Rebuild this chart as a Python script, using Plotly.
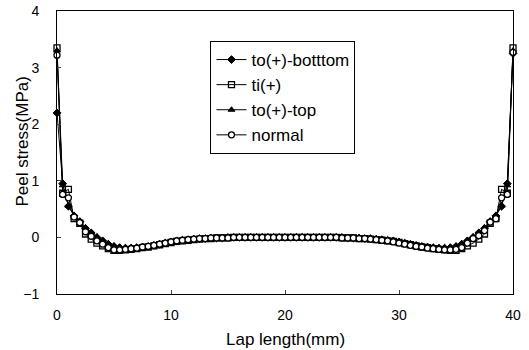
import plotly.graph_objects as go

# Lap position along the joint (mm)
lap_mm = [i * 0.5 for i in range(81)]

# Peel stress (MPa) for each loading case
to_bottom = [2.20, 0.95, 0.55, 0.38, 0.28, 0.16, 0.08, 0.00, -0.06, -0.12,
             -0.16, -0.18, -0.19, -0.19, -0.18, -0.17, -0.16, -0.14, -0.12, -0.10,
             -0.08, -0.06, -0.05, -0.04, -0.03, -0.02, -0.02, -0.01, -0.01, -0.01,
             0.00, 0.00, 0.00, 0.00, 0.00, 0.00, 0.00, 0.00, 0.00, 0.00,
             0.00, 0.00, 0.00, 0.00, 0.00, 0.00, 0.00, 0.00, 0.00, 0.00,
             0.00, -0.01, -0.01, -0.01, -0.02, -0.02, -0.03, -0.04, -0.05, -0.06,
             -0.08, -0.10, -0.12, -0.14, -0.16, -0.17, -0.18, -0.19, -0.19, -0.18,
             -0.16, -0.12, -0.06, 0.00, 0.08, 0.16, 0.28, 0.38, 0.55, 0.95,
             3.25]
ti_plus = [3.35, 0.78, 0.85, 0.33, 0.25, 0.06, -0.03, -0.10, -0.15, -0.20,
           -0.23, -0.23, -0.22, -0.21, -0.20, -0.18, -0.17, -0.15, -0.13, -0.11,
           -0.09, -0.07, -0.06, -0.05, -0.04, -0.03, -0.02, -0.02, -0.01, -0.01,
           -0.01, 0.00, 0.00, 0.00, 0.00, 0.00, 0.00, 0.00, 0.00, 0.00,
           0.00, 0.00, 0.00, 0.00, 0.00, 0.00, 0.00, 0.00, 0.00, 0.00,
           -0.01, -0.01, -0.01, -0.02, -0.02, -0.03, -0.04, -0.05, -0.06, -0.07,
           -0.09, -0.11, -0.13, -0.15, -0.17, -0.18, -0.20, -0.21, -0.22, -0.23,
           -0.23, -0.20, -0.15, -0.10, -0.03, 0.06, 0.25, 0.33, 0.85, 0.78,
           3.35]
to_top = [3.30, 0.92, 0.56, 0.39, 0.29, 0.17, 0.09, 0.01, -0.05, -0.11,
          -0.15, -0.17, -0.18, -0.18, -0.18, -0.17, -0.16, -0.14, -0.12, -0.10,
          -0.08, -0.06, -0.05, -0.04, -0.03, -0.02, -0.02, -0.01, -0.01, -0.01,
          0.00, 0.00, 0.00, 0.00, 0.00, 0.00, 0.00, 0.00, 0.00, 0.00,
          0.00, 0.00, 0.00, 0.00, 0.00, 0.00, 0.00, 0.00, 0.00, 0.00,
          0.00, -0.01, -0.01, -0.01, -0.02, -0.02, -0.03, -0.04, -0.05, -0.06,
          -0.08, -0.10, -0.12, -0.14, -0.16, -0.17, -0.18, -0.18, -0.18, -0.17,
          -0.15, -0.11, -0.05, 0.01, 0.09, 0.17, 0.29, 0.39, 0.56, 0.92,
          3.30]
normal = [3.22, 0.76, 0.70, 0.36, 0.26, 0.10, 0.02, -0.06, -0.12, -0.18,
          -0.22, -0.22, -0.21, -0.20, -0.19, -0.17, -0.16, -0.14, -0.12, -0.10,
          -0.08, -0.06, -0.05, -0.04, -0.03, -0.02, -0.02, -0.01, -0.01, -0.01,
          -0.01, 0.00, 0.00, 0.00, 0.00, 0.00, 0.00, 0.00, 0.00, 0.00,
          0.00, 0.00, 0.00, 0.00, 0.00, 0.00, 0.00, 0.00, 0.00, 0.00,
          -0.01, -0.01, -0.01, -0.02, -0.02, -0.03, -0.04, -0.05, -0.06, -0.08,
          -0.10, -0.12, -0.14, -0.16, -0.17, -0.19, -0.20, -0.21, -0.22, -0.22,
          -0.21, -0.18, -0.10, -0.02, 0.03, 0.12, 0.27, 0.33, 0.70, 0.76,
          3.27]

y_ticks = [-1, 0, 1, 2, 3, 4]
x_ticks = [0, 10, 20, 30, 40]

series = [
    ("to(+)-botttom", to_bottom, dict(symbol="diamond", size=6, color="black",
                                      line=dict(color="black", width=1))),
    ("ti(+)", ti_plus, dict(symbol="square-open", size=6, color="black",
                            line=dict(color="black", width=1.3))),
    ("to(+)-top", to_top, dict(symbol="triangle-up", size=6, color="black",
                               line=dict(color="black", width=1))),
    ("normal", normal, dict(symbol="circle", size=6, color="white",
                            line=dict(color="black", width=1.3))),
]

fig = go.Figure()
for name, vals, mk in series:
    fig.add_trace(go.Scatter(
        x=lap_mm, y=vals, name=name, mode="lines+markers",
        line=dict(color="black", width=1), marker=mk, cliponaxis=False,
    ))

font = "Liberation Sans, Arial, sans-serif"
fig.update_layout(
    width=529, height=350,
    margin=dict(l=57, r=16, t=11, b=56),
    paper_bgcolor="white", plot_bgcolor="white",
    font=dict(family=font, color="black", size=14),
    showlegend=True,
    legend=dict(
        x=0.3366, y=0.894, xanchor="left", yanchor="top",
        bordercolor="black", borderwidth=1, bgcolor="white",
        font=dict(size=17, family=font), itemwidth=30,
        tracegroupgap=0, traceorder="normal",
    ),
    xaxis=dict(
        range=[0, 40], tickvals=x_ticks, ticks="inside", ticklen=4,
        showline=True, linecolor="black", linewidth=1, mirror=True,
        showgrid=False, zeroline=False, ticklabelstandoff=8,
        automargin=False, tickfont=dict(size=14),
    ),
    yaxis=dict(
        range=[-1, 4], tickvals=y_ticks, ticks="inside", ticklen=4,
        showline=True, linecolor="black", linewidth=1, mirror=True,
        showgrid=False, zeroline=False, ticklabelstandoff=14,
        automargin=False, tickfont=dict(size=14),
    ),
    annotations=[
        dict(text="Lap length(mm)", xref="paper", yref="paper",
             x=0.5, y=-0.16, xanchor="center", yanchor="middle",
             showarrow=False, font=dict(size=17)),
        dict(text="Peel stress(MPa)", xref="paper", yref="paper",
             x=-0.076, y=0.54, xanchor="center", yanchor="middle",
             textangle=-90, showarrow=False, font=dict(size=17)),
    ],
)

fig.write_html("out.html")
